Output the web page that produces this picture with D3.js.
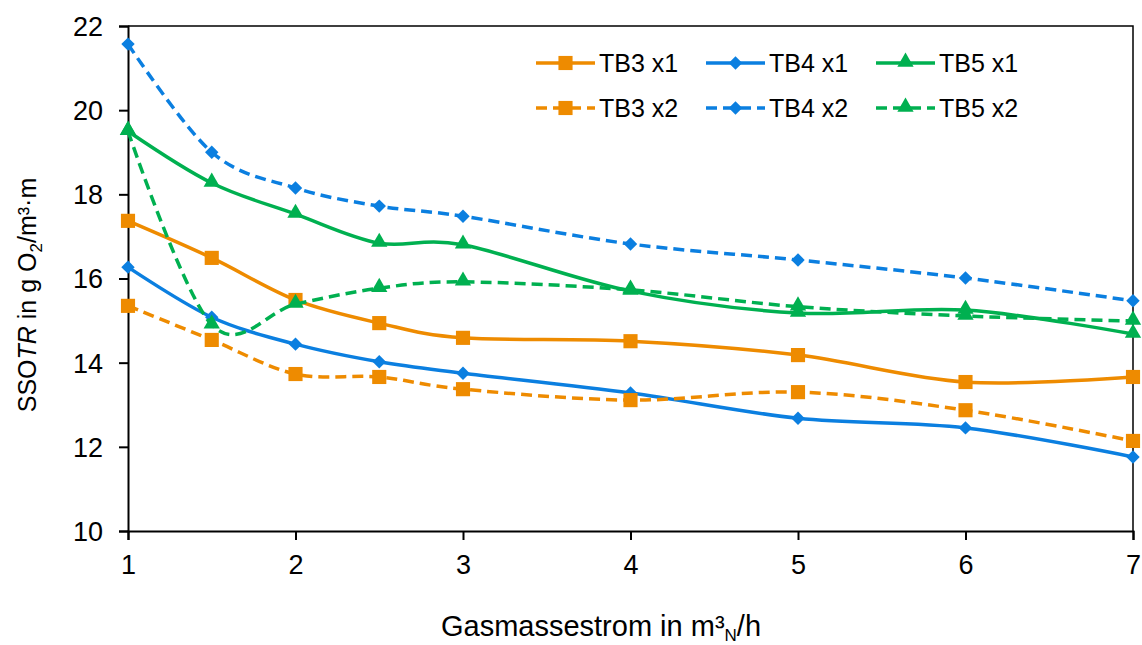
<!DOCTYPE html>
<html>
<head>
<meta charset="utf-8">
<script src="https://cdn.jsdelivr.net/npm/d3@7"></script>
<style>
  body { margin: 0; background: #fff; }
  svg { display: block; font-family: "Liberation Sans", Arial, sans-serif; }
</style>
</head>
<body>
<div id="chart"></div>
<script>
// Gas flow values (x)
const flows = [1, 1.5, 2, 2.5, 3, 4, 5, 6, 7];

// SSOTR values per series
const tb3x1 = [17.37, 16.49, 15.49, 14.94, 14.59, 14.51, 14.18, 13.54, 13.66];
const tb4x1 = [16.27, 15.08, 14.44, 14.02, 13.75, 13.28, 12.68, 12.45, 11.76];
const tb5x1 = [19.50, 18.27, 17.53, 16.84, 16.80, 15.70, 15.18, 15.25, 14.68];
const tb3x2 = [15.35, 14.54, 13.73, 13.66, 13.37, 13.11, 13.30, 12.87, 12.14];
const tb4x2 = [21.57, 19.00, 18.15, 17.72, 17.48, 16.82, 16.44, 16.01, 15.47];
const tb5x2 = [19.50, 14.90, 15.39, 15.77, 15.92, 15.73, 15.33, 15.11, 14.99];

const xTicks = [1, 2, 3, 4, 5, 6, 7];
const yTicks = [10, 12, 14, 16, 18, 20, 22];

const COLORS = { orange: "#EE8B00", blue: "#0B7FE0", green: "#00B050" };

const series = [
  { name: "TB3 x1", values: tb3x1, color: COLORS.orange, marker: "square", dashed: false },
  { name: "TB4 x1", values: tb4x1, color: COLORS.blue, marker: "diamond", dashed: false },
  { name: "TB5 x1", values: tb5x1, color: COLORS.green, marker: "triangle", dashed: false },
  { name: "TB3 x2", values: tb3x2, color: COLORS.orange, marker: "square", dashed: true },
  { name: "TB4 x2", values: tb4x2, color: COLORS.blue, marker: "diamond", dashed: true },
  { name: "TB5 x2", values: tb5x2, color: COLORS.green, marker: "triangle", dashed: true },
];

const width = 1142, height = 645;
const plot = { left: 128, right: 1133, top: 26, bottom: 531 };
const DASH = "11,6";

const svg = d3.select("#chart").append("svg")
  .attr("width", width)
  .attr("height", height);

const x = d3.scaleLinear().domain([1, 7]).range([plot.left, plot.right]);
const y = d3.scaleLinear().domain([10, 22]).range([plot.bottom, plot.top]);

// plot frame (top + right)
svg.append("path")
  .attr("d", `M${plot.left},${plot.top}H${plot.right}V${plot.bottom}`)
  .attr("fill", "none")
  .attr("stroke", "#000")
  .attr("stroke-width", 1.5);

// axes
const yAxis = svg.append("g")
  .attr("transform", `translate(${plot.left},0)`)
  .call(d3.axisLeft(y).tickValues(yTicks).tickSize(9).tickPadding(16).tickFormat(d3.format("d")));

const xAxis = svg.append("g")
  .attr("transform", `translate(0,${plot.bottom})`)
  .call(d3.axisBottom(x).tickValues(xTicks).tickSize(9).tickPadding(15).tickFormat(d3.format("d")));

[xAxis, yAxis].forEach(ax => {
  ax.select(".domain").attr("stroke", "#000").attr("stroke-width", 2);
  ax.selectAll(".tick line").attr("stroke", "#000").attr("stroke-width", 2);
  ax.selectAll("text").attr("font-size", "27px").attr("fill", "#000")
    .attr("font-family", "'Liberation Sans', Arial, sans-serif");
});
yAxis.selectAll("text").attr("dy", "0.35em");

// markers
const symbolFor = {
  square: d3.symbol().type(d3.symbolSquare).size(200),
  diamond: d3.symbol().type(d3.symbolDiamond2).size(115),
  triangle: d3.symbol().type(d3.symbolTriangle).size(115),
};
const markerShift = { square: 0, diamond: 0, triangle: -1 };

const line = d3.line()
  .x((d, i) => x(flows[i]))
  .y(d => y(d))
  .curve(d3.curveCardinal.tension(0));

series.forEach(s => {
  const g = svg.append("g");
  g.append("path")
    .datum(s.values)
    .attr("d", line)
    .attr("fill", "none")
    .attr("stroke", s.color)
    .attr("stroke-width", 3.5)
    .attr("stroke-dasharray", s.dashed ? DASH : null);
  g.selectAll("path.mk")
    .data(s.values)
    .join("path")
    .attr("class", "mk")
    .attr("d", symbolFor[s.marker])
    .attr("transform", (d, i) => `translate(${x(flows[i])},${y(d) + markerShift[s.marker]})`)
    .attr("fill", s.color);
});

// legend
const legCols = [536, 706, 876];
const legRows = [63, 108];
series.forEach((s, i) => {
  const cx = legCols[i % 3], cy = legRows[Math.floor(i / 3)];
  const g = svg.append("g").attr("transform", `translate(${cx},${cy})`);
  g.append("line")
    .attr("x1", 0).attr("x2", 59).attr("y1", 0).attr("y2", 0)
    .attr("stroke", s.color)
    .attr("stroke-width", 3.5)
    .attr("stroke-dasharray", s.dashed ? DASH : null);
  g.append("path")
    .attr("d", symbolFor[s.marker])
    .attr("transform", `translate(29.5,${markerShift[s.marker]})`)
    .attr("fill", s.color);
  g.append("text")
    .attr("x", 63).attr("y", 0).attr("dy", "0.35em")
    .attr("font-size", "25px")
    .attr("fill", "#000")
    .text(s.name);
});

// axis titles
const xt = svg.append("text")
  .attr("x", 601)
  .attr("y", 636)
  .attr("text-anchor", "middle")
  .attr("font-size", "29px")
  .attr("fill", "#000");
xt.append("tspan").text("Gasmassestrom in m³");
xt.append("tspan").attr("font-size", "17px").attr("dy", 5).text("N");
xt.append("tspan").attr("dy", -5).text("/h");

const yt = svg.append("text")
  .attr("transform", "translate(36,295) rotate(-90)")
  .attr("text-anchor", "middle")
  .attr("font-size", "25px")
  .attr("fill", "#000");
yt.append("tspan").text("SSO");
yt.append("tspan").attr("font-style", "italic").text("TR");
yt.append("tspan").text(" in g O");
yt.append("tspan").attr("font-size", "17px").attr("dy", 6).text("2");
yt.append("tspan").attr("dy", -6).text("/m³·m");
</script>
</body>
</html>
